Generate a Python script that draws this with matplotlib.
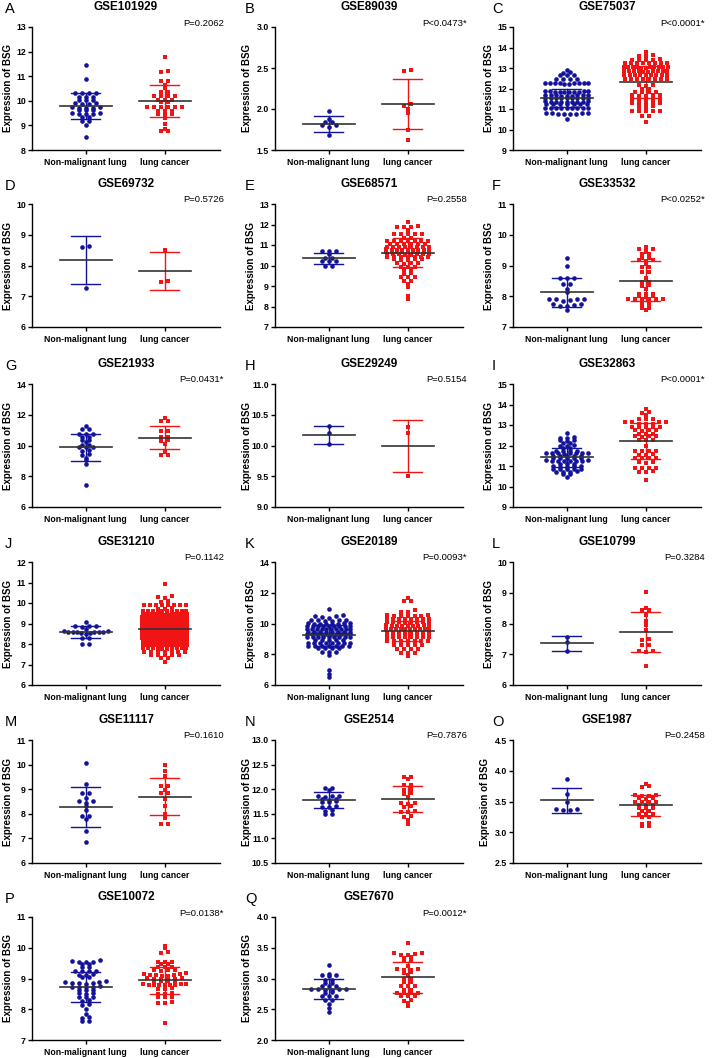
import numpy as np
import matplotlib
matplotlib.use("Agg")
import matplotlib.pyplot as plt

plt.rcParams['font.family'] = ['Liberation Sans', 'DejaVu Sans']

groups = ["Non-malignant lung", "lung cancer"]
panel_letters = list("ABCDEFGHIJKLMNOPQ")
gse_ids = ["GSE101929", "GSE89039", "GSE75037", "GSE69732", "GSE68571", "GSE33532",
           "GSE21933", "GSE29249", "GSE32863", "GSE31210", "GSE20189", "GSE10799",
           "GSE11117", "GSE2514", "GSE1987", "GSE10072", "GSE7670"]
p_texts = ["P=0.2062", "P<0.0473*", "P<0.0001*", "P=0.5726", "P=0.2558", "P<0.0252*",
           "P=0.0431*", "P=0.5154", "P<0.0001*", "P=0.1142", "P=0.0093*", "P=0.3284",
           "P=0.1610", "P=0.7876", "P=0.2458", "P=0.0138*", "P=0.0012*"]

# y axis (min, max, step) per panel
y_ranges = [(8, 13, 1), (1.5, 3.0, 0.5), (9, 15, 1), (6, 10, 1), (7, 13, 1), (7, 11, 1),
            (6, 14, 2), (9.0, 11.0, 0.5), (9, 15, 1), (6, 12, 1), (6, 14, 2), (6, 10, 1),
            (6, 11, 1), (10.5, 13.0, 0.5), (2.5, 4.5, 0.5), (7, 11, 1), (2.0, 4.0, 0.5)]

# mean and SD
normal_mean = [9.80, 1.82, 11.55, 8.17, 10.35, 8.13, 9.88, 10.17, 11.42, 8.57, 9.22, 7.35, 8.28, 11.78, 3.52, 8.72, 2.83]
normal_sd = [0.53, 0.10, 0.45, 0.78, 0.28, 0.47, 0.88, 0.15, 0.47, 0.30, 0.70, 0.23, 0.80, 0.16, 0.20, 0.48, 0.16]
cancer_mean = [9.99, 2.06, 12.32, 7.82, 10.62, 8.51, 10.52, 9.99, 12.22, 8.72, 9.54, 7.73, 8.70, 11.80, 3.44, 8.94, 3.02]
cancer_sd = [0.66, 0.30, 0.78, 0.61, 0.70, 0.65, 0.73, 0.42, 0.90, 0.62, 0.65, 0.65, 0.75, 0.27, 0.17, 0.43, 0.25]

a_normal = [11.45, 10.88,
            10.33, 10.32, 10.32, 10.31,
            10.16, 10.16, 10.15,
            10.03, 10.03, 10.02,
            9.9, 9.9, 9.89, 9.89,
            9.73, 9.73, 9.72, 9.72, 9.72,
            9.62, 9.62, 9.61,
            9.49, 9.49, 9.48, 9.48, 9.48,
            9.35, 9.34,
            9.19, 9.18,
            9.01, 8.53]
a_cancer = [11.8,
            11.2, 11.19,
            10.8, 10.79,
            10.65, 10.5,
            10.35, 10.34,
            10.2, 10.2, 10.19, 10.19,
            10.05, 10.05, 10.04,
            9.95, 9.94,
            9.75, 9.75, 9.75, 9.74, 9.74, 9.74,
            9.6, 9.6, 9.59,
            9.45, 9.45, 9.44,
            9.3, 9.05, 8.85, 8.77, 8.76]

b_normal = [1.98, 1.88, 1.84, 1.84, 1.8, 1.8, 1.78, 1.68]
b_cancer = [2.47, 2.46, 2.06, 2.04, 2.0, 1.95, 1.75, 1.62]

c_normal = [12.9,
            12.8, 12.78,
            12.67, 12.66, 12.68,
            12.47, 12.46, 12.48, 12.45,
            12.27, 12.26, 12.25, 12.28, 12.24, 12.26, 12.27, 12.25, 12.26, 12.24,
            11.86, 11.85, 11.84, 11.86, 11.85, 11.87, 11.84, 11.85, 11.86, 11.85,
            11.67, 11.66, 11.65, 11.66, 11.67, 11.65, 11.66, 11.64, 11.66,
            11.54, 11.53, 11.52, 11.53, 11.54, 11.52, 11.53, 11.54, 11.53,
            11.37, 11.36, 11.35, 11.36, 11.37, 11.36, 11.35, 11.36, 11.36,
            11.23, 11.22, 11.23, 11.24, 11.22, 11.23, 11.22,
            11.05, 11.04, 11.03, 11.04, 11.05, 11.03, 11.04, 11.05, 11.04,
            10.79, 10.78, 10.8, 10.78, 10.79, 10.77, 10.79, 10.78,
            10.5]
c_cancer = [13.8,
            13.62, 13.6, 13.58,
            13.42, 13.4, 13.38, 13.41, 13.39,
            13.25, 13.24, 13.23, 13.25, 13.24, 13.22, 13.26, 13.23,
            13.04, 13.03, 13.02, 13.05, 13.03, 13.04, 13.02, 13.03, 13.05, 13.04, 13.03,
            12.84, 12.83, 12.82, 12.84, 12.83, 12.85, 12.83, 12.82, 12.84, 12.83,
            12.68, 12.67, 12.66, 12.68, 12.67, 12.66, 12.68, 12.67, 12.66,
            12.48, 12.47, 12.46, 12.48, 12.47, 12.46, 12.47, 12.48,
            12.15, 12.14, 12.16,
            12.0, 11.98,
            11.83, 11.82, 11.81, 11.83,
            11.66, 11.65, 11.67, 11.66, 11.65,
            11.48, 11.47, 11.49, 11.48, 11.47,
            11.28, 11.29, 11.27, 11.28, 11.29,
            11.12, 11.11, 11.13,
            10.9, 10.91, 10.89, 10.9, 10.92,
            10.66, 10.67,
            10.38]

d_normal = [8.63, 8.6, 7.28]
d_cancer = [8.52, 7.48, 7.47]

e_normal = [10.72, 10.72, 10.71, 10.55, 10.37, 10.37, 10.21, 10.2, 10.2, 9.97, 9.97]
e_cancer = [12.12,
            11.9, 11.89, 11.91, 11.9,
            11.72,
            11.54, 11.53, 11.52, 11.54, 11.53,
            11.33, 11.32,
            11.2, 11.21, 11.19, 11.2, 11.21, 11.2, 11.19,
            11.04, 11.05, 11.03, 11.04, 11.05, 11.04,
            10.9, 10.91, 10.89, 10.9, 10.91, 10.9, 10.89, 10.9,
            10.78, 10.77, 10.79, 10.78, 10.77, 10.78, 10.79, 10.78, 10.77,
            10.66, 10.67, 10.65, 10.66, 10.67, 10.66, 10.65, 10.66, 10.67,
            10.54, 10.53, 10.55, 10.54, 10.53, 10.54, 10.55, 10.54,
            10.42, 10.41, 10.43, 10.42, 10.41, 10.42, 10.43,
            10.3, 10.29, 10.31, 10.3, 10.29,
            10.1, 10.11, 10.09, 10.1,
            9.93, 9.92, 9.94,
            9.77, 9.78,
            9.6, 9.61,
            9.45, 9.44, 9.43,
            9.25, 9.26,
            9.08, 8.95, 8.5, 8.38]

f_normal = [9.25, 8.99, 8.6, 8.6, 8.59, 8.41, 8.4, 8.24, 8.13, 7.92, 7.92, 7.91, 7.91, 7.87, 7.86,
            7.76, 7.75, 7.7, 7.69, 7.69, 7.56]
f_cancer = [9.61, 9.54, 9.54, 9.53, 9.43, 9.37, 9.36, 9.26, 9.26, 9.17, 9.17, 9.16, 9.05, 8.96, 8.95,
            8.8, 8.8, 8.6, 8.46, 8.45, 8.35, 8.34, 8.24, 8.08, 8.08, 8.07, 8.0, 8.0, 7.99,
            7.92, 7.92, 7.92, 7.91, 7.91, 7.91, 7.85, 7.84, 7.7, 7.7, 7.62, 7.61, 7.54]

g_normal = [11.25, 11.08, 11.07, 10.75, 10.75, 10.74, 10.54, 10.53, 10.37, 10.36, 10.22, 10.06, 10.05,
            9.9, 9.9, 9.89, 9.68, 9.67, 9.42, 9.41, 9.2, 9.03, 8.77, 7.42]
g_cancer = [11.8, 11.62, 11.6, 10.97, 10.96, 10.54, 10.53, 10.33, 10.32, 10.1, 9.58, 9.36, 9.35]

h_normal = [10.32, 10.2, 10.02]
h_cancer = [10.3, 10.2, 9.5]

i_normal = [12.62,
            12.38, 12.4, 12.37,
            12.25, 12.24, 12.26,
            12.13, 12.14,
            12.0, 12.01, 11.99,
            11.9, 11.89,
            11.74, 11.73, 11.75, 11.72,
            11.62, 11.61, 11.63, 11.62, 11.61, 11.63, 11.62, 11.6,
            11.5, 11.49, 11.51, 11.5, 11.49,
            11.38, 11.37, 11.39, 11.38, 11.37,
            11.26, 11.25, 11.27, 11.26, 11.25, 11.24, 11.26, 11.27,
            11.1, 11.09, 11.11,
            10.98, 10.97, 10.99, 10.98, 10.97,
            10.85, 10.86, 10.84, 10.85, 10.86,
            10.73, 10.72, 10.74, 10.73,
            10.6, 10.61,
            10.46]
i_cancer = [13.8,
            13.6, 13.62,
            13.47,
            13.3, 13.31, 13.29,
            13.14, 13.15, 13.13, 13.14,
            13.05, 13.06, 13.04,
            12.9, 12.91, 12.89, 12.9, 12.91,
            12.74, 12.75, 12.73, 12.74,
            12.57, 12.56, 12.58,
            12.44, 12.45, 12.43, 12.44,
            12.28, 12.29, 12.27,
            12.0,
            11.72, 11.73, 11.71, 11.72,
            11.56, 11.57, 11.55,
            11.38, 11.37, 11.39, 11.38,
            11.18, 11.19, 11.17,
            10.9, 10.91, 10.89, 10.9,
            10.73, 10.74, 10.72,
            10.32]

j_normal = [9.08, 8.9, 8.88, 8.86, 8.85, 8.72, 8.62, 8.61, 8.6, 8.6, 8.59, 8.58, 8.58, 8.57, 8.56,
            8.55, 8.47, 8.3, 8.27, 7.99, 7.98]
j_cancer = [10.95,
            10.32, 10.3, 10.25,
            10.08, 10.06,
            9.9, 9.91, 9.89, 9.9, 9.91, 9.89, 9.9, 9.91,
            9.73, 9.74, 9.72,
            9.6, 9.61, 9.59, 9.6, 9.61, 9.59, 9.6, 9.61, 9.59, 9.6,
            9.44, 9.45, 9.43, 9.44, 9.45, 9.43, 9.44, 9.45, 9.43, 9.44, 9.45, 9.43,
            9.3, 9.31, 9.29, 9.3, 9.31, 9.29, 9.3, 9.31, 9.29, 9.3, 9.31, 9.29, 9.3, 9.31,
            9.17, 9.18, 9.16, 9.17, 9.18, 9.16, 9.17, 9.18, 9.16, 9.17, 9.18, 9.16, 9.17, 9.18,
            9.04, 9.05, 9.03, 9.04, 9.05, 9.03, 9.04, 9.05, 9.03, 9.04, 9.05, 9.03, 9.04, 9.05,
            8.91, 8.92, 8.9, 8.91, 8.92, 8.9, 8.91, 8.92, 8.9, 8.91, 8.92, 8.9, 8.91, 8.92,
            8.78, 8.79, 8.77, 8.78, 8.79, 8.77, 8.78, 8.79, 8.77, 8.78, 8.79, 8.77, 8.78, 8.79,
            8.66, 8.67, 8.65, 8.66, 8.67, 8.65, 8.66, 8.67, 8.65, 8.66, 8.67, 8.65, 8.66, 8.67,
            8.53, 8.54, 8.52, 8.53, 8.54, 8.52, 8.53, 8.54, 8.52, 8.53, 8.54, 8.52, 8.53, 8.54,
            8.4, 8.41, 8.39, 8.4, 8.41, 8.39, 8.4, 8.41, 8.39, 8.4, 8.41, 8.39, 8.4, 8.41,
            8.27, 8.28, 8.26, 8.27, 8.28, 8.26, 8.27, 8.28, 8.26, 8.27, 8.28, 8.26, 8.27, 8.28,
            8.14, 8.15, 8.13, 8.14, 8.15, 8.13, 8.14, 8.15, 8.13, 8.14, 8.15, 8.13,
            7.95, 7.96, 7.94, 7.95, 7.96, 7.94, 7.95, 7.96, 7.94, 7.95, 7.96, 7.94,
            7.79, 7.8, 7.78, 7.79, 7.8, 7.78, 7.79, 7.8, 7.78, 7.79,
            7.62, 7.63, 7.61, 7.62, 7.63, 7.61, 7.62,
            7.46, 7.47, 7.45, 7.46, 7.47,
            7.3, 7.31,
            7.14]

k_normal = [10.95,
            10.52, 10.53, 10.51,
            10.38, 10.4,
            10.2, 10.21, 10.19, 10.2, 10.21, 10.19,
            10.0, 10.01, 9.99, 10.0, 10.01, 9.99, 10.0, 10.02,
            9.83, 9.84, 9.82, 9.83, 9.84, 9.82, 9.83, 9.84, 9.82,
            9.66, 9.67, 9.65, 9.66, 9.67, 9.65, 9.66, 9.67, 9.65, 9.66,
            9.46, 9.47, 9.45, 9.46, 9.47, 9.45, 9.46, 9.47,
            9.3, 9.31, 9.29, 9.3, 9.31, 9.29, 9.3, 9.31, 9.29, 9.3,
            9.12, 9.13, 9.11, 9.12, 9.13, 9.11, 9.12, 9.13, 9.11,
            8.93, 8.94, 8.92, 8.93, 8.94,
            8.72, 8.73, 8.71, 8.72, 8.73, 8.71, 8.72, 8.73,
            8.54, 8.55, 8.53, 8.54, 8.55, 8.53, 8.54,
            8.4, 8.41, 8.39, 8.4,
            8.15, 8.16, 8.14,
            7.96, 7.0, 6.73, 6.52]
k_cancer = [11.67,
            11.47, 11.45,
            10.88,
            10.77, 10.78,
            10.52, 10.53, 10.51, 10.52, 10.53, 10.51, 10.52,
            10.3, 10.31, 10.29, 10.3, 10.31, 10.29, 10.3, 10.31,
            10.07, 10.08, 10.06, 10.07, 10.08, 10.06, 10.07, 10.08,
            9.86, 9.87, 9.85, 9.86, 9.87, 9.85, 9.86, 9.87, 9.85,
            9.65, 9.66, 9.64, 9.65, 9.66, 9.64, 9.65, 9.66, 9.64, 9.65,
            9.4, 9.41, 9.39, 9.4, 9.41, 9.39, 9.4, 9.41,
            9.14, 9.15, 9.13, 9.14, 9.15, 9.13, 9.14, 9.15,
            8.86, 8.87, 8.85, 8.86, 8.87, 8.85, 8.86,
            8.6, 8.61, 8.59, 8.6, 8.61,
            8.32, 8.33, 8.31, 8.32,
            8.1, 8.11, 8.09,
            7.9]

l_normal = [7.55, 7.4, 7.1]
l_cancer = [9.03, 8.52, 8.45, 8.44, 8.27, 8.09, 7.95, 7.8, 7.5, 7.45, 7.3, 7.29, 7.1, 7.09, 7.08, 6.63]

m_normal = [10.05, 9.2, 8.86, 8.86, 8.65, 8.52, 8.51, 8.45, 8.3, 8.15, 7.92, 7.92, 7.78, 7.3, 6.86]
m_cancer = [10.0, 9.76, 9.55, 9.15, 9.14, 8.98, 8.85, 8.84, 8.6, 8.3, 8.0, 7.82, 7.58, 7.57]

n_normal = [12.03, 12.02, 11.98, 11.87, 11.86, 11.86, 11.85, 11.8, 11.8, 11.79, 11.75, 11.74, 11.74,
            11.65, 11.64, 11.64, 11.57, 11.56, 11.5, 11.49]
n_cancer = [12.25, 12.24, 12.2, 12.09, 12.08, 12.0, 11.99, 11.92, 11.91, 11.85, 11.72, 11.71, 11.7,
            11.65, 11.64, 11.55, 11.54, 11.53, 11.45, 11.44, 11.38, 11.3]

o_normal = [3.86, 3.62, 3.5, 3.38, 3.37, 3.36, 3.36]
o_cancer = [3.78, 3.75, 3.74, 3.6, 3.6, 3.59, 3.59, 3.55, 3.55, 3.54, 3.5, 3.5, 3.49, 3.49, 3.45,
            3.45, 3.44, 3.4, 3.4, 3.39, 3.35, 3.35, 3.3, 3.3, 3.29, 3.25, 3.24, 3.15, 3.14, 3.1, 3.1]

p_normal = [9.6, 9.58,
            9.54, 9.53, 9.55,
            9.46, 9.47,
            9.38, 9.37,
            9.24, 9.23, 9.25, 9.24,
            9.13, 9.12, 9.14,
            9.05, 9.04,
            8.9, 8.89, 8.91,
            8.84, 8.83, 8.85, 8.84,
            8.73, 8.72, 8.74, 8.73, 8.72,
            8.62, 8.61, 8.63,
            8.52, 8.51, 8.53,
            8.4, 8.41, 8.39,
            8.29, 8.28,
            8.15, 8.16,
            8.0, 7.85,
            7.74, 7.73,
            7.63, 7.62]
p_cancer = [10.05, 9.99,
            9.84, 9.85,
            9.54, 9.55, 9.53,
            9.46, 9.47,
            9.38, 9.37, 9.39,
            9.27, 9.28, 9.26, 9.27,
            9.16, 9.17, 9.15,
            9.1, 9.09, 9.11, 9.1, 9.09,
            9.0, 9.01, 8.99, 9.0, 9.01, 8.99,
            8.92, 8.91, 8.93, 8.92,
            8.8, 8.81, 8.79, 8.8, 8.81, 8.79, 8.8, 8.81, 8.79,
            8.67, 8.68, 8.66,
            8.51, 8.52, 8.5,
            8.4, 8.41, 8.39,
            8.21, 8.22, 8.2,
            7.56]

q_normal = [3.22, 3.08, 3.05, 3.05, 3.04, 2.98, 2.98, 2.92, 2.92, 2.88, 2.88, 2.87, 2.83, 2.83,
            2.83, 2.83, 2.82, 2.82, 2.78, 2.77, 2.72, 2.72, 2.71, 2.65, 2.65, 2.58, 2.52, 2.46]
q_cancer = [3.57, 3.42, 3.42, 3.4, 3.39, 3.39, 3.35, 3.34, 3.3, 3.29, 3.2, 3.15, 3.15, 3.14, 3.14,
            3.1, 3.09, 3.05, 3.0, 2.99, 2.95, 2.94, 2.88, 2.88, 2.87, 2.82, 2.81, 2.77, 2.77, 2.76,
            2.76, 2.72, 2.72, 2.71, 2.65, 2.64, 2.6, 2.55]

normal_data = [a_normal, b_normal, c_normal, d_normal, e_normal, f_normal, g_normal, h_normal, i_normal,
               j_normal, k_normal, l_normal, m_normal, n_normal, o_normal, p_normal, q_normal]
cancer_data = [a_cancer, b_cancer, c_cancer, d_cancer, e_cancer, f_cancer, g_cancer, h_cancer, i_cancer,
               j_cancer, k_cancer, l_cancer, m_cancer, n_cancer, o_cancer, p_cancer, q_cancer]

BLUE = '#12129a'
RED = '#f01414'
MEAN_C = '#333333'

W, H = 712, 1058
col_left = [32, 275, 513]
letter_x = [5, 245, 492]
row_top = [27, 204, 384, 562, 740, 917]
ax_w, ax_h = 188, 123
xlim = (-0.68, 1.70)


def spread(vals, ppy, ppx, h=4.0, g=1.8, dx=7.0, wmax=48):
    # prism-like scatter: group close values into rows, spread each row sideways
    vals = np.asarray(vals, dtype=float)
    rows = []
    for i in np.argsort(vals, kind='stable'):
        y = vals[i] * ppy
        if rows and y - rows[-1][0] <= h and y - rows[-1][2] <= g:
            rows[-1][1].append(i)
            rows[-1][2] = y
        else:
            rows.append([y, [i], y])
    offs = np.zeros(len(vals))
    for _, idxs, _ in rows:
        n = len(idxs)
        stp = min(dx, wmax / n)
        pos = (np.arange(n) - (n - 1) / 2) * stp
        pos = pos[np.argsort(np.abs(pos), kind='stable')]
        for j, i in enumerate(idxs):
            offs[i] = pos[j] / ppx
    return offs


fig = plt.figure(figsize=(W / 100, H / 100), dpi=100)

for idx in range(17):
    r, c = divmod(idx, 3)
    ax = fig.add_axes([col_left[c] / W, 1 - (row_top[r] + ax_h) / H, ax_w / W, ax_h / H])
    lo, hi, st = y_ranges[idx]
    ax.set_xlim(*xlim)
    ax.set_ylim(lo, hi)
    ppy = ax_h / (hi - lo)
    ppx = ax_w / (xlim[1] - xlim[0])

    sets = [(normal_data[idx], normal_mean[idx], normal_sd[idx], BLUE, 'o', 11),
            (cancer_data[idx], cancer_mean[idx], cancer_sd[idx], RED, 's', 10)]
    for g, (vals, mu, sd, col, mk, sz) in enumerate(sets):
        xs = g + spread(vals, ppy, ppx)
        ax.scatter(xs, vals, s=sz, marker=mk, color=col, linewidths=0, zorder=2, clip_on=False)
        ax.plot([g, g], [mu - sd, mu + sd], color=col, lw=1.0, zorder=3)
        for yy in (mu - sd, mu + sd):
            ax.plot([g - 0.18, g + 0.18], [yy, yy], color=col, lw=1.0, zorder=3)
        ax.plot([g - 0.33, g + 0.33], [mu, mu], color=MEAN_C, lw=1.2, zorder=4)

    for s in ['top', 'right']:
        ax.spines[s].set_visible(False)
    for s in ['left', 'bottom']:
        ax.spines[s].set_linewidth(1.0)

    ticks = np.arange(lo, hi + st / 2, st)
    ax.set_yticks(ticks)
    dec = 1 if st < 1 else 0
    ax.set_yticklabels([f"{t:.{dec}f}" for t in ticks], fontweight='bold')
    ax.set_xticks([0, 1])
    ax.set_xticklabels(groups, fontweight='bold')
    ax.tick_params(axis='both', length=3, width=1.0, labelsize=6.3, pad=1.5)
    ax.tick_params(axis='x', pad=2.5)

    ax.set_ylabel('Expression of BSG', fontsize=7, fontweight='bold')
    ax.yaxis.set_label_coords((-23 if dec else -19) / ax_w, 0.5)

    cx = (col_left[c] + ax_w / 2) / W
    fig.text(cx, 1 - (row_top[r] - 20) / H, gse_ids[idx], ha='center', va='center',
             fontsize=8.5, fontweight='bold')
    fig.text((col_left[c] + ax_w + 4) / W, 1 - (row_top[r] - 4) / H, p_texts[idx],
             ha='right', va='center', fontsize=6.8)
    fig.text(letter_x[c] / W, 1 - (row_top[r] - 18) / H, panel_letters[idx],
             ha='left', va='center', fontsize=10.5)

fig.savefig('out.png', dpi=100)
